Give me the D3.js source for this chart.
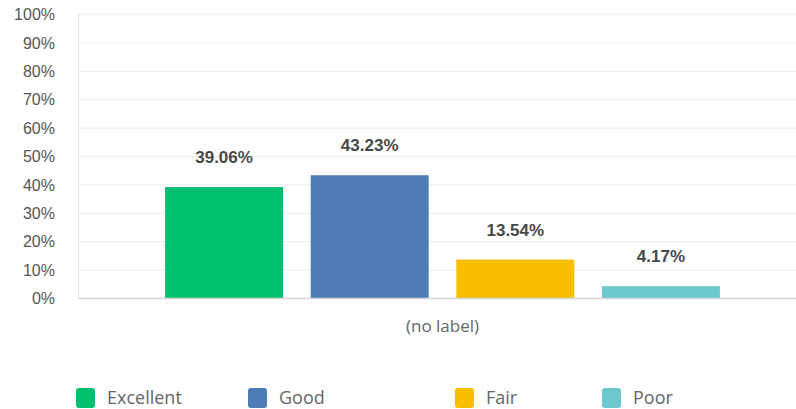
<!DOCTYPE html>
<html>
  <head>
    <meta charset="utf-8">
    <title>Ratings</title>
    <script src="https://d3js.org/d3.v7.min.js" charset="utf-8"></script>
    <style type="text/css">
      body { margin: 0; background: #fff; }
      .tick text { font-family: "Liberation Sans", Arial, sans-serif; font-size: 16px; fill: #555; }
      .val { font-family: "Liberation Sans", Arial, sans-serif; font-size: 17px; font-weight: bold; fill: #484848; }
      .cat, .leg { font-family: "Open Sans", "Noto Sans", sans-serif; fill: #666; }
    </style>
  </head>
  <body>
    <script type="text/javascript">

      // Data
      var categories = ["(no label)"];
      var series = ["Excellent", "Good", "Fair", "Poor"];
      var values = [39.06, 43.23, 13.54, 4.17];
      var colors = ["#00bf6f", "#507cb6", "#f9be00", "#6bc8cd"];
      var yTicks = [0, 10, 20, 30, 40, 50, 60, 70, 80, 90, 100];

      var width = 796;
      var height = 409;
      var plotLeft = 78, plotTop = 14, plotBottom = 298;

      var svg = d3.select("body")
          .append("svg")
          .attr("width", width)
          .attr("height", height);

      var y = d3.scaleLinear().domain([0, 100]).range([plotBottom, plotTop]);

      var x0 = d3.scaleBand().domain(categories).range([plotLeft, 807]).paddingOuter(0.157);
      var x1 = d3.scaleBand().domain(series).range([x0(categories[0]), x0(categories[0]) + x0.bandwidth()])
          .paddingInner(0.19).paddingOuter(0);

      // gridlines
      svg.append("g").selectAll("line")
          .data(yTicks.slice(1))
          .enter().append("line")
          .attr("x1", plotLeft).attr("x2", width)
          .attr("y1", function(d) { return y(d) + 0.5; })
          .attr("y2", function(d) { return y(d) + 0.5; })
          .style("stroke", "#ececec");

      // y axis labels
      var yAxis = d3.axisLeft(y)
          .tickValues(yTicks)
          .tickFormat(function(d) { return d + "%"; })
          .tickSize(0)
          .tickPadding(23);
      var ga = svg.append("g").attr("transform", "translate(" + plotLeft + ",0)").call(yAxis);
      ga.select(".domain").remove();
      ga.selectAll(".tick text").attr("dy", "0.36em");

      // bars
      svg.append("g").selectAll("rect")
          .data(values)
          .enter().append("rect")
          .attr("x", function(d, i) { return x1(series[i]); })
          .attr("width", x1.bandwidth())
          .attr("y", function(d) { return y(d); })
          .attr("height", function(d) { return plotBottom - y(d); })
          .style("fill", function(d, i) { return colors[i]; });

      // value labels
      svg.append("g").selectAll("text")
          .data(values)
          .enter().append("text")
          .attr("class", "val")
          .attr("x", function(d, i) { return x1(series[i]) + x1.bandwidth() / 2; })
          .attr("y", function(d) { return y(d) - 24; })
          .attr("text-anchor", "middle")
          .text(function(d) { return d.toFixed(2) + "%"; });

      // axis lines
      svg.append("line")
          .attr("x1", plotLeft + 0.5).attr("x2", plotLeft + 0.5)
          .attr("y1", plotTop).attr("y2", plotBottom)
          .style("stroke", "#e2e2e2");
      svg.append("line")
          .attr("x1", plotLeft).attr("x2", width)
          .attr("y1", plotBottom + 0.5).attr("y2", plotBottom + 0.5)
          .style("stroke", "#d6d6d6")
          .style("stroke-width", 1.5);

      // category label
      svg.append("text")
          .attr("class", "cat")
          .attr("x", x0(categories[0]) + x0.bandwidth() / 2)
          .attr("y", 332)
          .attr("text-anchor", "middle")
          .style("font-size", "17px")
          .text(categories[0]);

      // legend
      var legX = [76, 248, 455, 602];
      var leg = svg.append("g").selectAll("g")
          .data(series)
          .enter().append("g")
          .attr("transform", function(d, i) { return "translate(" + legX[i] + ",388)"; });
      leg.append("rect")
          .attr("width", 19).attr("height", 20)
          .attr("rx", 3)
          .style("fill", function(d, i) { return colors[i]; });
      leg.append("text")
          .attr("class", "leg")
          .attr("x", 31).attr("y", 16)
          .style("font-size", "18px")
          .text(function(d) { return d; });

    </script>
  </body>
</html>
